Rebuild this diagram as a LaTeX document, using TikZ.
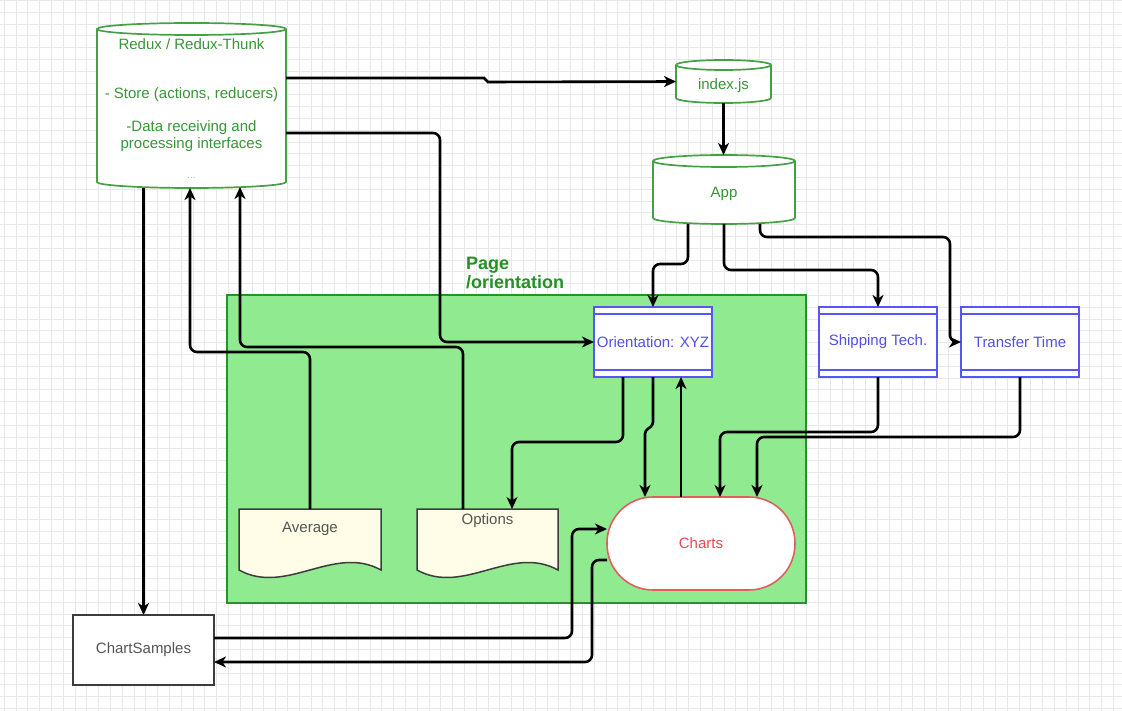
\documentclass[tikz,border=0pt]{standalone}
\usepackage{fontspec}
\setmainfont{Liberation Sans}
\usetikzlibrary{arrows.meta,calc}

\definecolor{gridgray}{RGB}{232,232,232}
\definecolor{cylgreen}{RGB}{70,160,70}
\definecolor{cyltext}{RGB}{55,150,55}
\definecolor{pagefill}{RGB}{144,235,144}
\definecolor{pagedraw}{RGB}{40,145,40}
\definecolor{pagetext}{RGB}{35,145,35}
\definecolor{procblue}{RGB}{85,85,250}
\definecolor{proctext}{RGB}{80,80,230}
\definecolor{chartred}{RGB}{225,95,95}
\definecolor{charttext}{RGB}{240,70,80}
\definecolor{docfill}{RGB}{255,252,232}
\definecolor{docdraw}{RGB}{60,60,60}
\definecolor{doctext}{RGB}{85,85,85}

% cylinder outline around an empty node: #1 node, #2 half width, #3 cap radius
\newcommand\cylinderbody[3]{%
  \filldraw[cylline] ([yshift=-#3]#1.north west) -- ([yshift=#3]#1.south west)
    arc[start angle=180,end angle=360,x radius=#2,y radius=#3]
    -- ([yshift=-#3]#1.north east)
    arc[start angle=0,end angle=180,x radius=#2,y radius=#3] -- cycle;
  \draw[cylline,fill=none] ([yshift=-#3]#1.north west)
    arc[start angle=180,end angle=360,x radius=#2,y radius=#3];
}
% document sheet with a wavy lower edge around an empty node
\newcommand\docsheet[1]{%
  \filldraw[docline] (#1.north west) -- (#1.north east) -- (#1.south east)
    .. controls ([xshift=-47pt,yshift=26pt]#1.south east)
    and ([xshift=47pt,yshift=-26pt]#1.south west) .. (#1.south west) -- cycle;
}
% process box: rectangle with an extra rule under the top and above the bottom
\newcommand\procrules[1]{%
  \draw[procblue,line width=1.6pt] ([yshift=-7pt]#1.north west) -- ([yshift=-7pt]#1.north east);
  \draw[procblue,line width=1.6pt] ([yshift=7pt]#1.south west) -- ([yshift=7pt]#1.south east);
}

\begin{document}
\begin{tikzpicture}[x=1pt,y=-1pt,
  font=\fontsize{15}{17}\selectfont,
  area/.style={rectangle,inner sep=0pt,outer sep=0pt},
  cylline/.style={draw=cylgreen,fill=white,line width=1.7pt},
  cyllabel/.style={text=cyltext,inner sep=0pt,align=center},
  procbox/.style={area,draw=procblue,fill=white,line width=1.6pt,text=proctext,
    minimum width=118pt,minimum height=70pt},
  docline/.style={draw=docdraw,fill=docfill,line width=1.5pt},
  doclabel/.style={text=doctext,inner sep=0pt},
  conn/.style={draw=black,line width=2.6pt,rounded corners=7pt,
    -{Stealth[length=12pt,width=11pt,inset=3.5pt]}}]

\useasboundingbox (0,0) rectangle (1122,711);
\fill[white] (0,0) rectangle (1122,711);

% background grid
\foreach \k in {0,...,95}
  \draw[gridgray,line width=1pt] (4.3+\k*11.8,0) -- (4.3+\k*11.8,711);
\foreach \k in {0,...,60}
  \draw[gridgray,line width=1pt] (0,0.5+\k*11.8) -- (1122,0.5+\k*11.8);

% page container
\node[area,draw=pagedraw,fill=pagefill,line width=2pt,
  minimum width=579pt,minimum height=308pt] (page) at (516.5,449) {};
\node[anchor=north west,inner sep=0pt,align=left,text=pagetext,
  font=\bfseries\fontsize{18}{19.5}\selectfont] (pagelabel) at (466,256.5) {Page\\/orientation};

% store cylinder
\node[area,minimum width=189pt,minimum height=165pt] (redux) at (191.5,105.5) {};
\cylinderbody{redux}{94.5pt}{6pt}
\node[cyllabel] (redux-title) at (191.5,44) {Redux / Redux-Thunk};
\node[cyllabel] (redux-store) at (191.5,95) {- Store (actions, reducers)};
\node[cyllabel] (redux-data) at (191.5,136) {-Data receiving and\\processing interfaces};
\node[cyllabel,text=cyltext!55,font=\fontsize{10}{11}\selectfont] (redux-more) at (191.5,178) {...};

% entry and app cylinders
\node[area,minimum width=95pt,minimum height=43pt] (index) at (723.5,81.5) {};
\cylinderbody{index}{47.5pt}{5pt}
\node[cyllabel] (index-label) at (723.5,86) {index.js};

\node[area,minimum width=142pt,minimum height=69pt] (app) at (724,189.5) {};
\cylinderbody{app}{71pt}{6pt}
\node[cyllabel] (app-label) at (724,194) {App};

% process boxes
\node[procbox] (orient) at (653,342) {Orientation: XYZ};
\procrules{orient}
\node[procbox] (ship) at (878,342) {Shipping Tech.};
\procrules{ship}
\node[procbox] (trans) at (1020,342) {Transfer Time};
\procrules{trans}

% documents
\node[area,minimum width=142pt,minimum height=61pt] (avg) at (310,539.5) {};
\docsheet{avg}
\node[doclabel] (avg-label) at (310,529) {Average};
\node[area,minimum width=141pt,minimum height=61pt] (opts) at (487.5,539.5) {};
\docsheet{opts}
\node[doclabel] (opts-label) at (487.5,521) {Options};

% charts terminator
\node[area,draw=chartred,fill=white,line width=1.6pt,rounded corners=46pt,
  minimum width=188pt,minimum height=93pt,text=charttext] (charts) at (701,543.5) {Charts};

% samples box
\node[area,draw=docdraw,fill=white,line width=1.5pt,minimum width=141pt,
  minimum height=70pt,text=doctext] (chs) at (143.5,650) {ChartSamples};

% connectors
\draw[conn,sharp corners] ([yshift=27.5pt]redux.east) -- (484,78) -- (488,82) -- (index.west);
\draw[conn] (index.south) -- (index.south |- app.north);
\draw[conn] ([yshift=-27.5pt]redux.east) -- (440,133) -- (440,342) -- (orient.west);
\draw[conn] ([xshift=-36pt]app.south) -- ++(0,40) -| (orient.north);
\draw[conn] (app.south) -- ++(0,46) -| (ship.north);
\draw[conn] ([xshift=36pt]app.south) -- ++(0,13) -- (950,237) -- (950,342) -- (trans.west);
\draw[conn] ([xshift=-30pt]orient.south) |- (512,442) -- ([xshift=24.5pt]opts.north);
\draw[conn,rounded corners=3pt] (orient.south) -- (653,425) -- (645,431) -- ([xshift=-56pt]charts.north);
\draw[conn] ([xshift=-20pt]charts.north) -- ([xshift=28pt]orient.south);
\draw[conn] (ship.south) |- (720,432) -- ([xshift=19pt]charts.north);
\draw[conn] (trans.south) |- (757,437) -- ([xshift=56pt]charts.north);
\draw[conn] (redux.south -| chs.north) -- (chs.north);
\draw[conn] (avg.north) |- (190,352) -- ([xshift=-1.5pt]redux.south);
\draw[conn] ([xshift=-24.5pt]opts.north) |- (240,347) -- ([xshift=48.5pt,yshift=1pt]redux.south);
\draw[conn] ([yshift=12pt]chs.east) -- (572,638) -- (572,529) -- ([yshift=14.5pt]charts.west);
\draw[conn] ([yshift=-16.5pt]charts.west) -- (592,560) -- (592,662) -- ([yshift=-12pt]chs.east);

\end{tikzpicture}
\end{document}
